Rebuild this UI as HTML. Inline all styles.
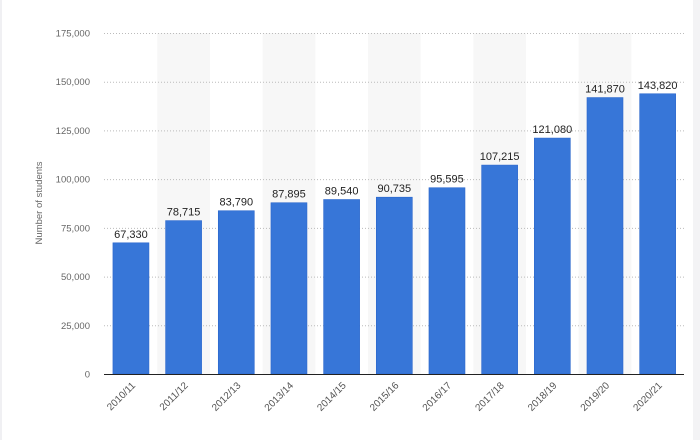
<!DOCTYPE html>
<html><head><meta charset="utf-8"><style>
html,body{margin:0;padding:0;background:#fff;}
svg{display:block;font-family:"Liberation Sans",sans-serif;}
</style></head><body>
<svg id="chart" width="700" height="440" viewBox="0 0 700 440">
<rect x="0" y="0" width="700" height="440" fill="#ffffff"/>
<rect x="693" y="0" width="7" height="440" fill="#f3f3f5"/>
<rect x="0" y="0" width="2" height="440" fill="#f0f0f3"/>
<g id="bands"></g><g id="grid"></g><g id="bars"></g><g id="labels"></g><g id="xticks"></g><g id="yticks"></g>
<line x1="104" y1="374.5" x2="684" y2="374.5" stroke="#222" stroke-width="1"/>
<text x="42" y="203" transform="rotate(-90 42 203)" text-anchor="middle" font-size="9.5" fill="#666">Number of students</text>
</svg>
<script>
const categories=["2010/11","2011/12","2012/13","2013/14","2014/15","2015/16","2016/17","2017/18","2018/19","2019/20","2020/21"];
const values=[67330,78715,83790,87895,89540,90735,95595,107215,121080,141870,143820];
const yTicks=[0,25000,50000,75000,100000,125000,150000,175000];
const NS="http://www.w3.org/2000/svg";
const plotL=104.6,plotR=684,plotT=33,plotB=374,yMax=175000;
const step=(plotR-plotL)/categories.length,barW=36;
function xBand(i){return plotL+i*step;}
function yScale(v){return plotB-(v/yMax)*(plotB-plotT);}
function mk(tag,attrs,parent){const e=document.createElementNS(NS,tag);for(const k in attrs)e.setAttribute(k,attrs[k]);document.getElementById(parent).appendChild(e);return e;}
const fmt=v=>v.toLocaleString("en-US");
categories.forEach((c,i)=>{
 if(i%2===1){const b=mk("rect",{x:xBand(i),y:plotT,width:step,height:plotB-plotT,fill:"#f7f7f7"},"bands");
 
 }
});
yTicks.forEach(t=>{
 if(t>0){const g=mk("line",{x1:104,x2:684,y1:yScale(t)+0.5,y2:yScale(t)+0.5,stroke:"#bbb","stroke-dasharray":"1,2","stroke-width":1},"grid");
 
 }
 const tx=mk("text",{x:90,y:yScale(t)+3.5,"text-anchor":"end","font-size":"9.5",fill:"#666"},"yticks");
 tx.textContent=fmt(t);
 
 
});
values.forEach((v,i)=>{
 const cx=xBand(i)+step/2;
 const r=mk("rect",{x:cx-barW/2,y:yScale(v),width:barW,height:plotB-yScale(v),fill:"#3776d8",stroke:"#2a66cc","stroke-width":0.6},"bars");
 
 
 const l=mk("text",{x:cx,y:yScale(v)-5,"text-anchor":"middle","font-size":"11",fill:"#222"},"labels");
 l.textContent=fmt(v);
 
 
 const tx=cx+5,ty=386;
 const xt=mk("text",{x:tx,y:ty,"text-anchor":"end","font-size":"10",fill:"#555",transform:"rotate(-45 "+tx+" "+ty+")"},"xticks");
 xt.textContent=categories[i];
 
 
});
</script>
</body></html>
